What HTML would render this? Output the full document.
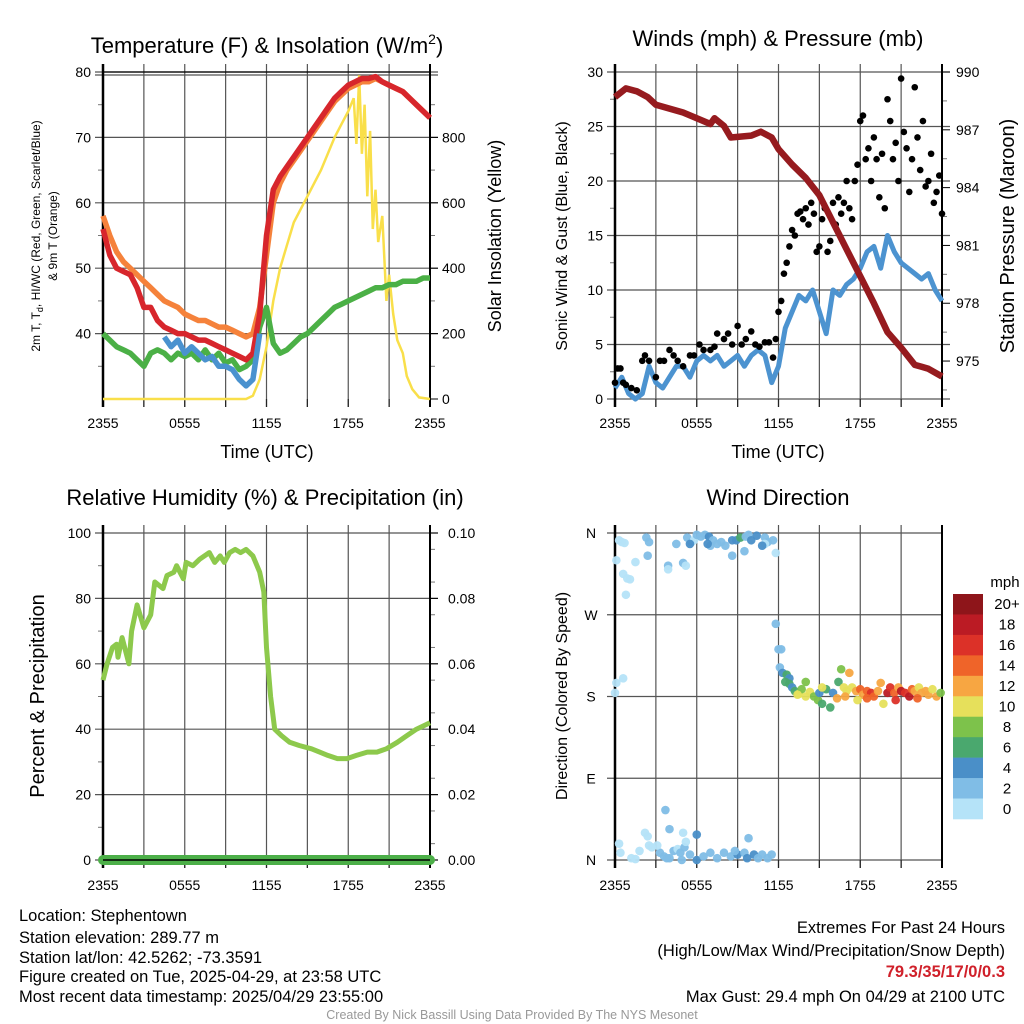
<!DOCTYPE html>
<html><head><meta charset="utf-8"><style>
html,body{margin:0;padding:0;background:#fff;}
svg{display:block;font-family:"Liberation Sans",sans-serif;}
</style></head><body>
<svg id="chart" width="1024" height="1024" viewBox="0 0 1024 1024">
<g id="p1"></g>
<g id="p2"></g>
<g id="p3"></g>
<g id="p4"></g>
<g font-size="16.5" fill="#000">
<text x="19" y="921">Location: Stephentown</text>
<text x="19" y="943">Station elevation: 289.77 m</text>
<text x="19" y="963">Station lat/lon: 42.5262; -73.3591</text>
<text x="19" y="982">Figure created on Tue, 2025-04-29, at 23:58 UTC</text>
<text x="19" y="1002">Most recent data timestamp: 2025/04/29 23:55:00</text>
<text x="1005" y="933" text-anchor="end">Extremes For Past 24 Hours</text>
<text x="1005" y="956" text-anchor="end">(High/Low/Max Wind/Precipitation/Snow Depth)</text>
<text x="1005" y="977" text-anchor="end" fill="#d0202a" font-weight="bold">79.3/35/17/0/0.3</text>
<text x="1005" y="1002" text-anchor="end">Max Gust: 29.4 mph On 04/29 at 2100 UTC</text>
<text x="512" y="1019" text-anchor="middle" font-size="12.5" fill="#999">Created By Nick Bassill Using Data Provided By The NYS Mesonet</text>
</g>
</svg>
<script>
// ---------- data ----------
const xTickLabels = ["2355","0555","1155","1755","2355"];
const halfHours = Array.from({length:49},(_,i)=>i*0.5);
const tempRed = [56,52,50,49.5,49,47,44,44,42,41,40.5,40,40,39.5,39,39,38.5,38,37.5,37,36.5,36,37,43,55,62,64,65.5,67,68.5,70,71.5,73,74.5,76,77,78,78.5,79,79,79.3,78.5,78,77.5,77,76,75,74,73];
const tempOrange = [58,55,52.5,51,50,49,48,47,46,45,44.5,44,43,42.5,42,42,41.5,41,41,40.5,40,39.5,40,44,52,60,63,65,66.5,68,69.5,71,72.5,74,75.5,76.5,77.5,78,78.5,78.5,79,78.5,78,77.5,77,76,75,74,73];
const dewGreen = [40,39,38,37.5,37,36,35,37,37.5,37,36,37,36.5,37,36,37.5,36,37,35.5,36,34.5,35,36,41,44,38.5,37,37.5,38.5,39.5,40,41,42,43,44,44.5,45,45.5,46,46.5,47,47,47.5,47.5,48,48,48,48.5,48.5];
const windChillBlue = [null,null,null,null,null,null,null,null,null,39.5,38,39,37,38,37,36,36.5,35,35,34.5,33,32,33,40,null,null,null,null,null,null,null,null,null,null,null,null,null,null,null,null,null,null,null,null,null,null,null,null,null];
const sunTimes = [0,10.5,11,11.5,12,12.5,13,13.5,14,15,16,17,17.5,18,18.4,18.6,18.8,19.0,19.2,19.4,19.6,19.8,20.0,20.2,20.5,20.8,21,21.3,21.6,22,22.3,22.7,23.2,24];
const sunValues = [0,0,10,60,160,300,400,470,540,620,700,800,840,880,920,780,990,750,900,620,820,520,640,480,560,300,380,260,180,140,70,30,5,0];
const windSpeed = [1,2,0.5,0,0.5,3,1.5,1,2,3,3,2,3.5,4,3.5,4,3,3.5,4,3,4,4.5,4,1.5,3,6.5,8,9.5,9,10,8,6,10,9.5,10.5,11,12,13.5,14,12,15,13.5,12.5,12,11.5,11,11.5,10,9];
const gustTimes = [0,0.2,0.4,0.6,0.8,1.2,1.6,2,2.2,2.5,3,3.3,3.6,4,4.3,4.6,5,5.5,5.8,6.2,6.5,7,7.3,7.5,8,8.3,8.6,9,9.3,9.6,10,10.3,10.6,11,11.3,11.6,11.8,12.0,12.2,12.4,12.6,12.8,13,13.2,13.4,13.6,13.8,14,14.2,14.4,14.6,14.8,15,15.2,15.4,15.6,15.8,16,16.2,16.4,16.6,16.8,17,17.2,17.4,17.6,17.8,18,18.2,18.4,18.6,18.8,19,19.2,19.4,19.6,19.8,20,20.2,20.4,20.6,20.8,21,21.2,21.4,21.6,21.8,22,22.2,22.4,22.6,22.8,23,23.2,23.4,23.6,23.8,24];
const gustValues = [1.5,2.8,2.8,1.5,1.3,1,0.8,3.5,4,3.5,2,3.5,3.5,4.5,4,3.5,3,4,4,5,4.5,4.5,4.8,6,5.5,6,5,6.7,5,5.5,6.2,5,4.8,5.2,5.2,3.8,5.5,8,9,11.5,12.5,14,15.5,15,17,17.2,16.5,17.5,16,18,17,13.5,14,16.5,17.5,13.5,14.5,18,16,18.5,17,18,20,17.5,16.5,20,21.5,25.5,26,22,23,20,24,22,18.5,22.5,17.5,27.5,25.5,22,23.5,20,29.4,24.5,23,19,22,28.6,24,21,25.5,19.5,20,22.5,18,19,20.5,17];
const presTimes = [0,0.8,1.6,2.4,3,4,5,6,7,7.3,8,8.5,10,10.7,11.5,12,13,14,15,16,17,18,19,20,21,22,22.5,23,24];
const presValues = [988.7,989.15,989.0,988.7,988.3,988.1,987.9,987.6,987.3,987.6,987.2,986.6,986.7,986.9,986.6,986.0,985.2,984.5,983.6,982.2,980.8,979.4,978.0,976.5,975.7,974.8,974.7,974.6,974.2];
const rhTimes = [0,0.3,0.7,1.0,1.1,1.4,1.9,2.1,2.5,3.0,3.5,3.8,4.4,4.7,5.2,5.4,5.9,6.1,6.6,7.1,7.8,8.2,8.6,8.9,9.3,9.7,10.1,10.5,11.0,11.5,11.8,12.0,12.3,12.6,13.1,13.7,14.4,15.3,15.9,16.5,17.2,17.9,18.6,19.4,20.1,20.8,21.6,22.3,23.0,24];
const rhValues = [55,60,65,66,62,68,60,70,78,71,75,85,83,87,88,90,86,91,90,92,94,91,93,91,94,95,94,95,93,88,82,65,50,40,38,36,35,34,33,32,31,31,32,33,33,34,36,38,40,42];
const precipValues = [0,0];
const dirTimes = [0.3,0.5,0.7,0.1,0.6,0.9,1.1,1.5,0.8,0.0,0.1,0.6,2.3,2.5,2.4,3.9,3.9,4.5,5.0,5.2,5.3,5.6,5.8,6.3,6.6,6.9,7.2,7.0,7.8,8.1,8.6,8.9,9.2,9.6,9.8,10.0,9.5,8.6,10.4,11.0,11.2,11.0,11.6,11.8,5.5,6.8,7.5,10.8,6.0,11.8,12.0,12.2,12.1,12.3,12.6,12.8,0.3,0.4,1.2,1.5,1.8,2.2,2.4,2.5,2.7,3.3,3.6,3.8,4.3,4.6,4.8,4.0,5.5,6.0,6.0,4.0,3.7,5.1,5.2,5.0,6.5,7.0,7.5,8.0,8.5,9.0,9.5,9.7,9.8,10.2,10.5,10.8,11.2,11.5,4.9,3.1,8.8,12.5,12.8,13.0,13.2,13.5,13.7,14.0,14.3,14.6,14.9,15.0,15.2,15.5,15.8,16.0,16.3,16.4,16.6,16.8,17.0,17.2,17.4,17.7,18.0,18.2,18.5,18.8,19.0,19.3,19.5,19.7,20.0,20.2,20.5,20.8,21.0,21.3,21.6,21.8,22.0,22.3,22.5,22.8,23.0,23.3,23.6,23.9,17.8,15.2,14.0,18.5,20.6,22.2,13.4,16.9];
const dirValues = [352,350,349,330,315,310,309,328,292,184,195,200,355,350,335,324,320,348,327,324,355,350,352,356,358,356,352,346,350,346,352,352,355,356,358,352,340,335,357,355,350,348,352,338,348,348,348,346,358,260,232,232,212,206,204,200,18,8,2,1,10,30,26,16,14,8,4,2,10,12,8,2,6,0,28,34,55,14,20,30,4,8,2,8,4,6,8,2,24,6,2,6,2,6,0,16,10,196,194,190,186,183,188,196,185,180,176,184,172,188,168,184,178,196,210,190,186,206,190,186,188,182,186,184,180,186,195,172,184,190,184,190,186,184,180,188,186,190,184,186,182,188,180,184,176,190,180,178,176,178,182,180];
const dirSpeeds = [1,0,0,0,0,0,0,0,0,0,0,0,2,2,2,2,0,2,2,0,2,2,0,3,2,4,3,3,2,2,4,4,6,2,3,4,2,2,4,2,3,1,2,1,4,4,3,4,2,2,2,3,3,5,6,5,1,1,0,0,0,1,0,1,0,2,2,2,2,1,2,2,2,4,4,2,3,2,1,1,2,2,2,2,3,4,3,4,3,4,3,3,2,2,2,1,3,7,6,5,7,10,9,8,10,9,8,4,7,6,7,5,13,7,8,10,10,12,10,12,14,12,15,16,14,13,12,10,18,16,14,12,18,16,18,14,12,10,12,13,12,10,12,8,11,10,11,14,17,14,10,13];
const speedBinLabels = ["0","2","4","6","8","10","12","14","16","18","20+"];
const speedBinColors = ["#b5e3f8","#80bde6","#4a8fc8","#4aa86e","#7dc24b","#e6e05b","#f7a642","#ef6429","#dc3128","#bb1b24","#8e151a"];

// ---------- helpers ----------
const NS="http://www.w3.org/2000/svg";
function mk(parent,tag,attrs,text){const e=document.createElementNS(NS,tag);for(const k in attrs)e.setAttribute(k,attrs[k]);if(text!==undefined)e.textContent=text;parent.appendChild(e);return e;}
function xScale(L,R){return t=>L+(R-L)*t/24;}
function yScale(T,B,lo,hi){return v=>B-(B-T)*(v-lo)/(hi-lo);}
function pathFrom(xs,ys,X,Y){let d="",pen=false;for(let i=0;i<xs.length;i++){if(ys[i]===null){pen=false;continue;}d+=(pen?"L":"M")+X(xs[i]).toFixed(1)+","+Y(ys[i]).toFixed(1);pen=true;}return d;}

function frame(g,L,R,T,B,hLines,leftTicks,minorLeft,rightTicks,minorRight){
  for(let h=0;h<=24;h+=3){const x=L+(R-L)*h/24;
    const gl=mk(g,"line",{x1:x,x2:x,y1:T-8,y2:B+8,stroke:"#555","stroke-width":1.2});
    
    }
  hLines.forEach(y=>{const hl=mk(g,"line",{x1:L-8,x2:R+(rightTicks?8:0),y1:y,y2:y,stroke:"#555","stroke-width":1.2});
    
    });
  minorLeft.forEach(y=>mk(g,"line",{x1:L-5,x2:L,y1:y,y2:y,stroke:"#777","stroke-width":1}));
  minorRight.forEach(y=>mk(g,"line",{x1:R,x2:R+5,y1:y,y2:y,stroke:"#777","stroke-width":1}));
  for(let h=0;h<=24;h+=3){const x=L+(R-L)*h/24;mk(g,"line",{x1:x,x2:x,y1:B,y2:B+8,stroke:"#222","stroke-width":1.2});}
  mk(g,"line",{x1:L,x2:L,y1:T-8,y2:B+8,stroke:"#000","stroke-width":2.5});
  mk(g,"line",{x1:R,x2:R,y1:T-8,y2:B+8,stroke:"#000","stroke-width":2});
}
function xLabels(g,L,R,y){xTickLabels.forEach((s,i)=>{const t=mk(g,"text",{x:L+(R-L)*i/4,y:y,"text-anchor":"middle","font-size":14},s);
  
  });}
function text(g,x,y,s,size,anchor,name,rot){const a={x:x,y:y,"font-size":size,"text-anchor":anchor||"middle"};if(rot)a.transform=`rotate(-90 ${x} ${y})`;const t=mk(g,"text",a,s);
  
  return t;}

// ---------- panel 1 ----------
(function(){
 const g=document.getElementById("p1");const L=103,R=430,T=72,B=399;
 const X=xScale(L,R),Y=yScale(T,B,30,80),YS=yScale(T,B,0,1000);
 frame(g,L,R,T,B,[40,50,60,70,80].map(Y).concat([75]),[],[35,45,55,65,75].map(Y),true,[100,300,500,700,900].map(YS));
 [0,200,400,600,800].forEach(v=>mk(g,"line",{x1:R,x2:R+8,y1:YS(v),y2:YS(v),stroke:"#000"}));
 [40,50,60,70,80].forEach(v=>text(g,L-12,Y(v)+5,String(v),14,"end","y-tick-label"));
 [0,200,400,600,800].forEach(v=>text(g,R+12,YS(v)+5,String(v),14,"start","y2-tick-label"));
 xLabels(g,L,R,428);
 text(g,267,458,"Time (UTC)",18,"middle","x-axis-title");
 const tt=mk(g,"text",{x:267,y:53,"font-size":22,"text-anchor":"middle"});tt.innerHTML='Temperature (F) &amp; Insolation (W/m<tspan font-size="14" dy="-9">2</tspan><tspan dy="9">)</tspan>';
 
 
 const yl=mk(g,"text",{x:40,y:236,"font-size":12,"text-anchor":"middle",transform:"rotate(-90 40 236)"});yl.innerHTML='2m T, T<tspan font-size="9" dy="3">d</tspan><tspan dy="-3">, HI/WC (Red, Green, Scarlet/Blue)</tspan>';
 
 
 text(g,57,236,"& 9m T (Orange)",12,"middle","y-axis-title-line2",true);
 text(g,501,236,"Solar Insolation (Yellow)",18,"middle","y2-axis-title",true);
 const sun=mk(g,"path",{d:pathFrom(sunTimes,sunValues,X,YS),fill:"none",stroke:"#f9df4a","stroke-width":2.5});
 
 
 const o=mk(g,"path",{d:pathFrom(halfHours,tempOrange,X,Y),fill:"none",stroke:"#f5823b","stroke-width":5.5,"stroke-linejoin":"round"});
 
 
 const gr=mk(g,"path",{d:pathFrom(halfHours,dewGreen,X,Y),fill:"none",stroke:"#4bb046","stroke-width":5.5,"stroke-linejoin":"round"});
 
 
 const r=mk(g,"path",{d:pathFrom(halfHours,tempRed,X,Y),fill:"none",stroke:"#d7262c","stroke-width":5.5,"stroke-linejoin":"round"});
 
 
 const b=mk(g,"path",{d:pathFrom(halfHours,windChillBlue,X,Y),fill:"none",stroke:"#4a92cf","stroke-width":5.5,"stroke-linejoin":"round"});
 
 
 mk(g,"line",{x1:L,x2:R,y1:T,y2:T,stroke:"#000","stroke-width":1.2});
})();

// ---------- panel 2 ----------
(function(){
 const g=document.getElementById("p2");const L=615,R=942,T=72,B=399;
 const X=xScale(L,R),Y=yScale(T,B,0,30),YP=yScale(T,B,990-327/19.27,990);
 frame(g,L,R,T,B,[0,5,10,15,20,25,30].map(Y),[],[2.5,7.5,12.5,17.5,22.5,27.5].map(Y),true,[988.5,985.5,982.5,979.5,976.5,973.5].map(YP));
 [990,987,984,981,978,975].forEach(v=>{mk(g,"line",{x1:R,x2:R+8,y1:YP(v),y2:YP(v),stroke:"#000"});text(g,R+14,YP(v)+5,String(v),14,"start","y2-tick-label");});
 [0,5,10,15,20,25,30].forEach(v=>text(g,L-12,Y(v)+5,String(v),14,"end","y-tick-label"));
 xLabels(g,L,R,428);
 text(g,778,458,"Time (UTC)",18,"middle","x-axis-title");
 text(g,778,46,"Winds (mph) & Pressure (mb)",22,"middle","chart-title");
 text(g,567,236,"Sonic Wind & Gust (Blue, Black)",16,"middle","y-axis-title",true);
 text(g,1014,236,"Station Pressure (Maroon)",20,"middle","y2-axis-title",true);
 const w=mk(g,"path",{d:pathFrom(halfHours,windSpeed,X,Y),fill:"none",stroke:"#4c93d0","stroke-width":5,"stroke-linejoin":"round"});
 
 
 gustTimes.forEach((t,i)=>{const c=mk(g,"circle",{cx:X(t),cy:Y(gustValues[i]),r:3.3,fill:"#000"});
  
  });
 const p=mk(g,"path",{d:pathFrom(presTimes,presValues,X,YP),fill:"none",stroke:"#961b1f","stroke-width":6.5,"stroke-linejoin":"round"});
 
 
})();

// ---------- panel 3 ----------
(function(){
 const g=document.getElementById("p3");const L=103,R=430,T=533,B=860;
 const X=xScale(L,R),Y=yScale(T,B,0,100),YR=yScale(T,B,0,0.1);
 frame(g,L,R,T,B,[0,20,40,60,80,100].map(Y),[],[10,30,50,70,90].map(Y),true,[0.005,0.015,0.025,0.035,0.045,0.055,0.065,0.075,0.085,0.095].map(YR));
 [0,20,40,60,80,100].forEach(v=>text(g,L-12,Y(v)+5,String(v),14,"end","y-tick-label"));
 [0,0.02,0.04,0.06,0.08,0.1].forEach(v=>{mk(g,"line",{x1:R,x2:R+8,y1:YR(v),y2:YR(v),stroke:"#000"});text(g,R+18,YR(v)+5,v.toFixed(2),14,"start","y2-tick-label");});
 xLabels(g,L,R,890);
 text(g,265,505,"Relative Humidity (%) & Precipitation (in)",22,"middle","chart-title");
 text(g,44,696,"Percent & Precipitation",20,"middle","y-axis-title",true);
 const rh=mk(g,"path",{d:pathFrom(rhTimes,rhValues,X,Y),fill:"none",stroke:"#8dc94c","stroke-width":5,"stroke-linejoin":"round"});
 
 
 const pr=mk(g,"path",{d:pathFrom([0,24],precipValues,X,YR),fill:"none",stroke:"#4caf48","stroke-width":10,"stroke-linecap":"round"});
 
 
 mk(g,"line",{x1:L,x2:R,y1:B,y2:B,stroke:"#000","stroke-width":1.5});
})();

// ---------- panel 4 ----------
(function(){
 const g=document.getElementById("p4");const L=615,R=942,T=533,B=860;
 const X=xScale(L,R),Y=yScale(T,B,0,360);
 frame(g,L,R,T,B,[0,90,180,270,360].map(Y),[],[],false,[]);
 ["N","E","S","W","N"].forEach((s,i)=>text(g,L-24,Y(i*90)+5,s,14,"middle","y-tick-label"));
 xLabels(g,L,R,890);
 text(g,778,505,"Wind Direction",22,"middle","chart-title");
 text(g,567,696,"Direction (Colored By Speed)",16,"middle","y-axis-title",true);
 dirTimes.forEach((t,i)=>{const bin=Math.min(10,Math.floor(dirSpeeds[i]/2));
  const c=mk(g,"circle",{cx:X(t),cy:Y(dirValues[i]),r:4.3,fill:speedBinColors[bin],"fill-opacity":0.95});
  
  });
 const cb=mk(g,"g",{});
 
 
 text(cb,1005,587,"mph",15,"middle","colorbar-title");
 const top=594,h=(819-594)/11;
 speedBinLabels.forEach((s,i)=>{const j=10-i;
  const r=mk(cb,"rect",{x:953,y:top+h*i,width:30,height:h+0.3,fill:speedBinColors[j]});
  
  
  text(cb,1007,top+h*i+h/2+5,speedBinLabels[j],15,"middle","colorbar-label");});
})();
</script>
</body></html>
